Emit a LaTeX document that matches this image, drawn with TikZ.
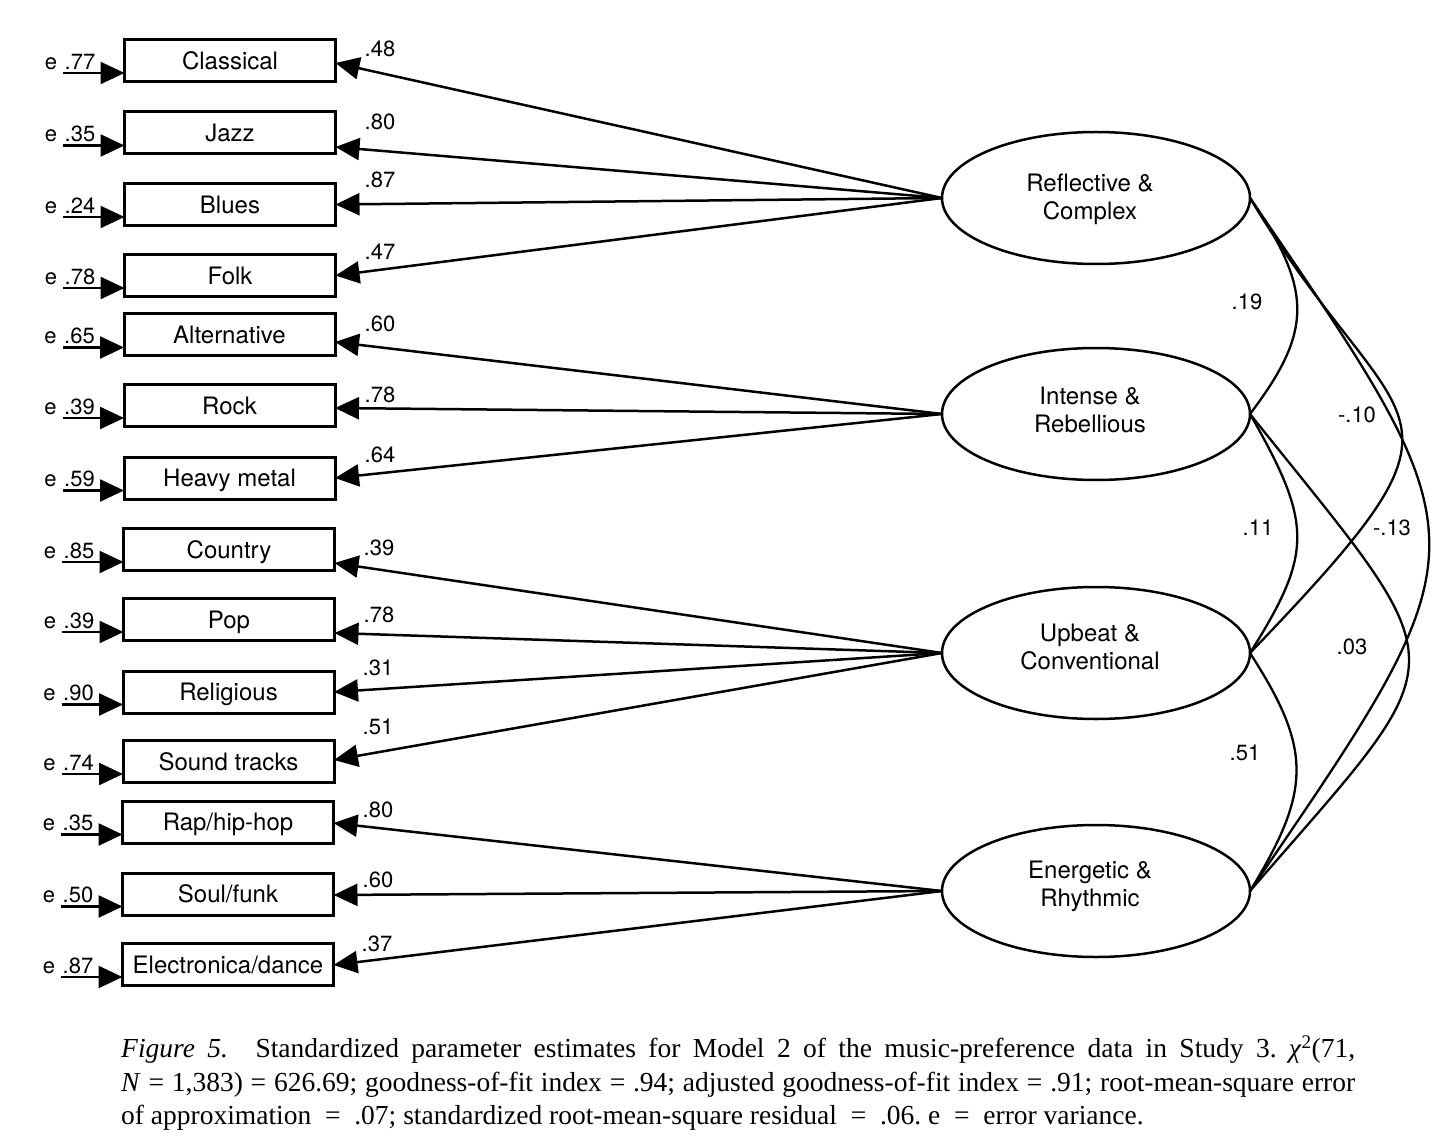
\documentclass[tikz,border=0pt]{standalone}
\usepackage{fontspec}
\setmainfont{TeX Gyre Heros}
\newfontfamily\capfont{Liberation Serif}
\usetikzlibrary{arrows.meta,shapes.geometric}
\begin{document}
\begin{tikzpicture}[x=1pt,y=-1pt,
  mbox/.style={draw, line width=3pt, minimum width=211pt, minimum height=42pt,
    inner sep=0pt, outer sep=0pt, font=\fontsize{24}{28}\selectfont,
    text height=17.2pt, text depth=0pt},
  fac/.style={draw, ellipse, line width=2.5pt, minimum width=308pt,
    minimum height=132pt, inner sep=0pt, outer sep=0pt},
  factext/.style={align=center, font=\fontsize{24}{28}\selectfont, inner sep=0pt},
  num/.style={font=\fontsize{22}{26}\selectfont, inner sep=0pt,
    text height=15.8pt, text depth=0pt},
  arr/.style={line width=2.5pt, -{Triangle[length=24pt,width=22pt]}},
  cor/.style={line width=2.3pt},
]
\useasboundingbox (0,0) rectangle (1456,1147);
\fill[white] (0,0) rectangle (1456,1147);

% observed variables
\node[mbox] (b1)  at (230,60.5)  {Classical};
\node[mbox] (b2)  at (230,133)   {Jazz};
\node[mbox] (b3)  at (230,204.5) {Blues};
\node[mbox] (b4)  at (230,275.5) {Folk};
\node[mbox] (b5)  at (229.5,335) {Alternative};
\node[mbox] (b6)  at (229.5,405.5) {Rock};
\node[mbox] (b7)  at (229.5,478) {Heavy metal};
\node[mbox] (b8)  at (229,549.5) {Country};
\node[mbox] (b9)  at (229,619.5) {Pop};
\node[mbox] (b10) at (228.5,692) {Religious};
\node[mbox] (b11) at (228.5,761.5) {Sound tracks};
\node[mbox] (b12) at (228,822)   {Rap/hip-hop};
\node[mbox] (b13) at (228,894)   {Soul/funk};
\node[mbox] (b14) at (228,964.5) {Electronica/dance};

% latent factors
\node[fac] (r)  at (1096,198) {};
\node[fac] (i)  at (1096,414) {};
\node[fac] (u)  at (1096,653) {};
\node[fac] (en) at (1096,891) {};
\node[factext] (rt)  at (1090,199)   {Reflective \&\\Complex};
\node[factext] (it)  at (1090,410)   {Intense \&\\Rebellious};
\node[factext] (ut)  at (1090,647)   {Upbeat \&\\Conventional};
\node[factext] (ent) at (1090,886.5) {Energetic \&\\Rhythmic};

% error terms
\foreach \k/\v in {1/.77,2/.35,3/.24,4/.78,5/.65,6/.39,7/.59,8/.85,9/.39,10/.90,11/.74,12/.35,13/.50,14/.87}{
  \node[num] (e\k) at ([xshift=-73.5pt,yshift=-1pt]b\k.west) {e};
  \node[num] (v\k) at ([xshift=-44.5pt,yshift=-1pt]b\k.west) {\v};
  \coordinate (s\k) at ([xshift=-61.5pt,yshift=-12.5pt]b\k.west);
  \draw[arr] (s\k) -- ([yshift=-12.5pt]b\k.west);
}

% loadings
\foreach \k/\f/\o/\v/\lx/\ly in {1/r/-2.5/.48/380/49, 2/r/-14/.80/380/122,
  3/r/0/.87/380/180, 4/r/0/.47/380/252, 5/i/-7/.60/380/324, 6/i/-2.5/.78/380/395,
  7/i/0/.64/380/455, 8/u/-13.5/.39/379/548, 9/u/-13.5/.78/379/615,
  10/u/0/.31/378/668, 11/u/1.5/.51/378/727, 12/en/-1/.80/378/810,
  13/en/-1/.60/378/880, 14/en/-0.5/.37/377/944}{
  \draw[arr] (\f.west) -- ([yshift=\o pt]b\k.east);
  \node[num] (l\k) at (\lx,\ly) {\v};
}

% factor correlations
\draw[cor] (r.east) .. controls +(63,92) and +(63,-83) .. (i.east);
\draw[cor] (i.east) .. controls +(63,110) and +(63,-100) .. (u.east);
\draw[cor] (u.east) .. controls +(62,96) and +(62,-101) .. (en.east);
\draw[cor] (r.east) .. controls +(150,250) and +(250,-260) .. (u.east);
\draw[cor] (i.east) .. controls +(212,265) and +(212,-245) .. (en.east);
\draw[cor] (r.east) .. controls +(239,350) and +(239,-350) .. (en.east);

\node[num] (c1) at (1247,302) {.19};
\node[num] (c2) at (1258,528) {.11};
\node[num] (c3) at (1245,753) {.51};
\node[num] (c4) at (1357,415) {-.10};
\node[num] (c5) at (1392,528) {-.13};
\node[num] (c6) at (1352,647) {.03};

% caption
\node[anchor=north west, inner sep=0pt, align=left,
  font=\capfont\fontsize{27.5}{33.5}\selectfont\frenchspacing] (cap) at (121,1036)
{\hbox to 1234pt{\textit{Figure 5.}\hspace{1em}Standardized parameter estimates for Model 2 of the music-preference data in Study 3. \textit{χ}\textsuperscript{2}(71,}\\
\hbox to 1234pt{\textit{N} = 1,383) = 626.69; goodness-of-fit index = .94; adjusted goodness-of-fit index = .91; root-mean-square error}\\
of approximation\hspace{0.5em}=\hspace{0.5em}.07; standardized root-mean-square residual\hspace{0.5em}=\hspace{0.5em}.06. e\hspace{0.5em}=\hspace{0.5em}error variance.};
\end{tikzpicture}
\end{document}
